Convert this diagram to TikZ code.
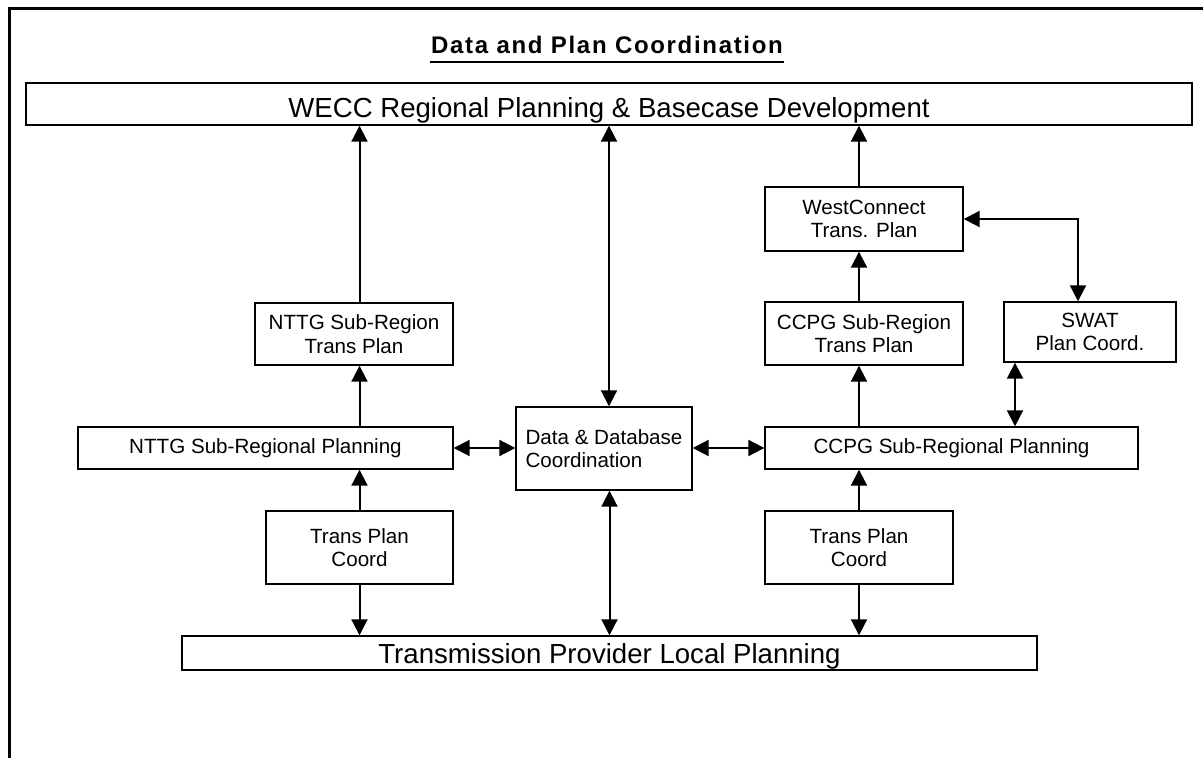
\documentclass[tikz,border=0pt]{standalone}
\usepackage{fontspec}
\setmainfont{Liberation Sans}
\usepackage{tikz}
\usetikzlibrary{arrows.meta}

\tikzset{
  box/.style={draw, line width=0.7pt, inner sep=0pt, align=center, font=\fontsize{10.3}{11.8}\selectfont},
  wide/.style={draw, line width=0.7pt, inner sep=0pt, text depth=0pt, font=\fontsize{13.8}{16}\selectfont},
}

\begin{document}
\begin{tikzpicture}[x=0.5pt, y=-0.5pt, >={Triangle[length=8pt,width=8pt]}, every path/.append style={line width=1pt}]
        \useasboundingbox (0,0) rectangle (1203,758);
        \draw[line width=1.5pt] (9,758) -- (9,9) -- (1203,9);

        \node[font=\bfseries\fontsize{12}{14}\selectfont\addfontfeatures{LetterSpace=7}, inner sep=0pt, anchor=base] (title) at (607,53.5) {Data and Plan Coordination};
        \draw ([yshift=-4.5pt]title.base west) -- ([yshift=-4.5pt]title.base east);

        \node[wide, text height=14pt, minimum width=583pt, minimum height=21pt] (wecc) at (609,104) {WECC Regional Planning \& Basecase Development};
        \node[wide, text height=10pt, minimum width=427.5pt, minimum height=17pt] (tpl) at (609.5,653) {Transmission Provider Local Planning};
        \node[box, align=left, minimum width=88pt, minimum height=41.5pt] (data) at (604,448.5) {Data \& Database\\Coordination};

        \node[box, minimum width=187.5pt, minimum height=21pt] (nttgplan) at (265.5,448) {NTTG Sub-Regional Planning};
        \node[box, minimum width=99pt, minimum height=31pt] (nttgsub) at (354,334) {NTTG Sub-Region\\Trans Plan};
        \node[box, minimum width=93.5pt, minimum height=36.5pt] (tpcl) at (359.5,547.5) {Trans Plan\\Coord};

        \node[box, minimum width=186.5pt, minimum height=21pt] (ccpgplan) at (951.5,448) {CCPG Sub-Regional Planning};
        \node[box, minimum width=99pt, minimum height=31.5pt] (ccpgsub) at (864,333.5) {CCPG Sub-Region\\Trans Plan};
        \node[box, minimum width=99pt, minimum height=32pt] (wc) at (864,219) {WestConnect\\Trans. Plan};
        \node[box, minimum width=94pt, minimum height=36.5pt] (tpcr) at (859,547.5) {Trans Plan\\Coord};
        \node[box, minimum width=86pt, minimum height=30pt] (swat) at (1090,332) {SWAT\\Plan Coord.};

        % NTTG column
        \draw[->] (tpcl.north) -- (tpcl.north |- nttgplan.south);
        \draw[->] (tpcl.south) -- (tpcl.south |- tpl.north);
        \draw[->] (tpcl.north |- nttgplan.north) -- (tpcl.north |- nttgsub.south);
        \draw[->] (tpcl.north |- nttgsub.north) -- (tpcl.north |- wecc.south);

        % data column
        \draw[<->] (wecc.south) -- (wecc.south |- data.north);
        \draw[<->] (tpl.north |- data.south) -- (tpl.north);
        \draw[<->] (nttgplan.east) -- (nttgplan.east -| data.west);
        \draw[<->] (data.east |- ccpgplan.west) -- (ccpgplan.west);

        % CCPG column
        \draw[->] (tpcr.north) -- (tpcr.north |- ccpgplan.south);
        \draw[->] (tpcr.south) -- (tpcr.south |- tpl.north);
        \draw[->] (tpcr.north |- ccpgplan.north) -- (tpcr.north |- ccpgsub.south);
        \draw[->] (tpcr.north |- ccpgsub.north) -- (tpcr.north |- wc.south);
        \draw[->] (tpcr.north |- wc.north) -- (tpcr.north |- wecc.south);
        \draw[<->] (wc.east) -| ([xshift=-6pt]swat.north);
        \draw[<->] ([xshift=-37.5pt]swat.south) -- ([xshift=-37.5pt]swat.south |- ccpgplan.north);
    \end{tikzpicture}
\end{document}
